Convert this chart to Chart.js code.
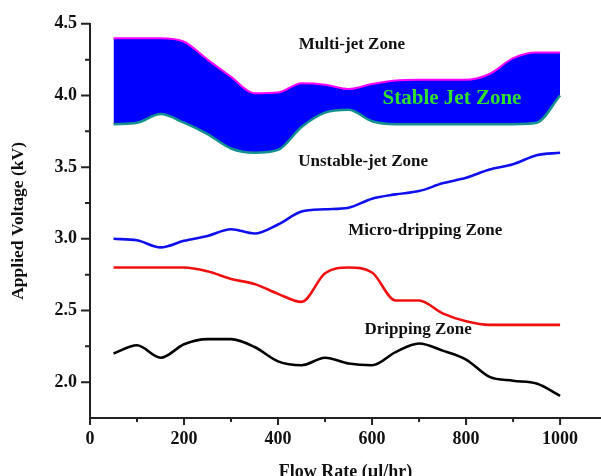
<!DOCTYPE html>
<html>
<head>
<meta charset="utf-8">
<script src="https://cdn.jsdelivr.net/npm/chart.js@4.4.1/dist/chart.umd.min.js"></script>
<style>
  html, body { margin: 0; padding: 0; background: #fff; overflow: hidden; }
  #wrap { width: 601px; height: 476px; }
</style>
</head>
<body>
<div id="wrap"><canvas id="chart" width="601" height="476"></canvas></div>
<script>
// Flow rate samples (µl/hr) shared by every curve
const flowRate = [50, 100, 150, 200, 250, 300, 350, 400, 450, 500,
                  550, 600, 650, 700, 750, 800, 850, 900, 950, 1000];

// Upper and lower limits of the stable cone-jet region (kV)
const stableUpper = [4.40, 4.40, 4.40, 4.375, 4.25, 4.13, 4.015, 4.02, 4.085, 4.075,
                     4.045, 4.08, 4.105, 4.11, 4.11, 4.11, 4.15, 4.26, 4.30, 4.30];
const stableLower = [3.80, 3.81, 3.87, 3.81, 3.73, 3.63, 3.60, 3.62, 3.78, 3.88,
                     3.90, 3.82, 3.80, 3.80, 3.80, 3.80, 3.80, 3.80, 3.81, 4.00];

// Mode boundaries below the stable region (kV)
const unstableJet = [3.00, 2.99, 2.94, 2.986, 3.02, 3.067, 3.037, 3.10, 3.19, 3.206,
                     3.217, 3.28, 3.31, 3.333, 3.387, 3.426, 3.484, 3.52, 3.583, 3.60];
const microDripping = [2.80, 2.80, 2.80, 2.80, 2.773, 2.72, 2.685, 2.616, 2.56, 2.76,
                       2.80, 2.765, 2.57, 2.57, 2.48, 2.425, 2.40, 2.40, 2.40, 2.40];
const dripping = [2.20, 2.257, 2.17, 2.264, 2.30, 2.30, 2.245, 2.145, 2.118, 2.17,
                  2.13, 2.118, 2.21, 2.27, 2.22, 2.158, 2.037, 2.01, 1.99, 1.905];

// Axis ticks
const xMajorTicks = [0, 200, 400, 600, 800, 1000];
const xMinorTicks = [100, 300, 500, 700, 900];
const yMajorTicks = [2.0, 2.5, 3.0, 3.5, 4.0, 4.5];
const yMinorTicks = [2.25, 2.75, 3.25, 3.75, 4.25];

// Region names
const zoneNames = ['Multi-jet Zone', 'Stable Jet Zone', 'Unstable-jet Zone',
                   'Micro-dripping Zone', 'Dripping Zone'];

// Where each region name sits, in axis units, and how it is styled
const zoneLabelPlacement = [
  { x: 557, y: 4.354, color: '#111111', size: 17 },
  { x: 770, y: 3.979, color: '#2fe02f', size: 21 },
  { x: 581, y: 3.542, color: '#111111', size: 17 },
  { x: 713, y: 3.056, color: '#111111', size: 17 },
  { x: 698, y: 2.368, color: '#111111', size: 17 }
];

const SERIF = "'Liberation Serif', 'Times New Roman', serif";
const toPoints = values => flowRate.map((x, i) => ({ x: x, y: values[i] }));

// Outward major/minor tick marks plus the region names
const axisDecor = {
  id: 'axisDecor',
  afterDraw(chart) {
    const { ctx, chartArea } = chart;
    const xs = chart.scales.x, ys = chart.scales.y;
    ctx.save();
    ctx.strokeStyle = '#222';
    ctx.lineWidth = 2;
    ctx.beginPath();
    yMajorTicks.forEach(v => { const p = ys.getPixelForValue(v); ctx.moveTo(chartArea.left - 9, p); ctx.lineTo(chartArea.left, p); });
    yMinorTicks.forEach(v => { const p = ys.getPixelForValue(v); ctx.moveTo(chartArea.left - 5, p); ctx.lineTo(chartArea.left, p); });
    xMajorTicks.forEach(v => { const p = xs.getPixelForValue(v); ctx.moveTo(p, chartArea.bottom); ctx.lineTo(p, chartArea.bottom + 7); });
    xMinorTicks.forEach(v => { const p = xs.getPixelForValue(v); ctx.moveTo(p, chartArea.bottom); ctx.lineTo(p, chartArea.bottom + 4); });
    ctx.stroke();

    ctx.textAlign = 'center';
    ctx.textBaseline = 'middle';
    zoneNames.forEach((name, i) => {
      const l = zoneLabelPlacement[i];
      ctx.font = 'bold ' + l.size + 'px ' + SERIF;
      ctx.fillStyle = l.color;
      ctx.fillText(name, xs.getPixelForValue(l.x), ys.getPixelForValue(l.y));
    });
    ctx.restore();
  }
};

const lineStyle = { pointRadius: 0, pointHoverRadius: 0, cubicInterpolationMode: 'monotone', fill: false };

new Chart(document.getElementById('chart'), {
  type: 'line',
  data: {
    datasets: [
      Object.assign({}, lineStyle, { label: 'Stable jet upper', data: toPoints(stableUpper),
        borderColor: '#ff00ff', borderWidth: 2, fill: '+1', backgroundColor: '#0000ff' }),
      Object.assign({}, lineStyle, { label: 'Stable jet lower', data: toPoints(stableLower),
        borderColor: '#14918f', borderWidth: 2.5 }),
      Object.assign({}, lineStyle, { label: 'Unstable jet', data: toPoints(unstableJet),
        borderColor: '#1010ee', borderWidth: 2.6 }),
      Object.assign({}, lineStyle, { label: 'Micro-dripping', data: toPoints(microDripping),
        borderColor: '#f01010', borderWidth: 2.6 }),
      Object.assign({}, lineStyle, { label: 'Dripping', data: toPoints(dripping),
        borderColor: '#000000', borderWidth: 2.6 })
    ]
  },
  options: {
    responsive: false,
    animation: false,
    devicePixelRatio: 1,
    layout: { padding: { top: 22, left: 0, right: 0, bottom: 0 } },
    plugins: {
      legend: { display: false },
      tooltip: { enabled: false },
      filler: { drawTime: 'beforeDatasetsDraw' }
    },
    scales: {
      x: {
        type: 'linear',
        min: 0,
        max: 1087,
        afterBuildTicks: s => { s.ticks = xMajorTicks.map(v => ({ value: v })); },
        afterFit: s => { s.height = 58; },
        grid: { display: false, drawTicks: false },
        border: { display: true, color: '#222', width: 2 },
        ticks: { padding: 11, color: '#111', maxRotation: 0, autoSkip: false,
                 font: { family: SERIF, size: 18, weight: 'bold' },
                 callback: v => String(v) },
        title: { display: true, text: 'Flow Rate (µl/hr)', color: '#111',
                 font: { family: SERIF, size: 18, weight: 'bold' },
                 padding: { top: 0, bottom: -7 } }
      },
      y: {
        type: 'linear',
        min: 1.75,
        max: 4.5,
        afterBuildTicks: s => { s.ticks = yMajorTicks.map(v => ({ value: v })); },
        afterFit: s => { s.width = 90; },
        grid: { display: false, drawTicks: false },
        border: { display: true, color: '#222', width: 2 },
        ticks: { padding: 13, color: '#111', autoSkip: false,
                 font: { family: SERIF, size: 18, weight: 'bold' },
                 callback: v => Number(v).toFixed(1) },
        title: { display: true, text: 'Applied Voltage (kV)', color: '#111',
                 font: { family: SERIF, size: 17.5, weight: 'bold' },
                 padding: { top: 8, bottom: 0 } }
      }
    }
  },
  plugins: [axisDecor]
});
</script>
</body>
</html>
